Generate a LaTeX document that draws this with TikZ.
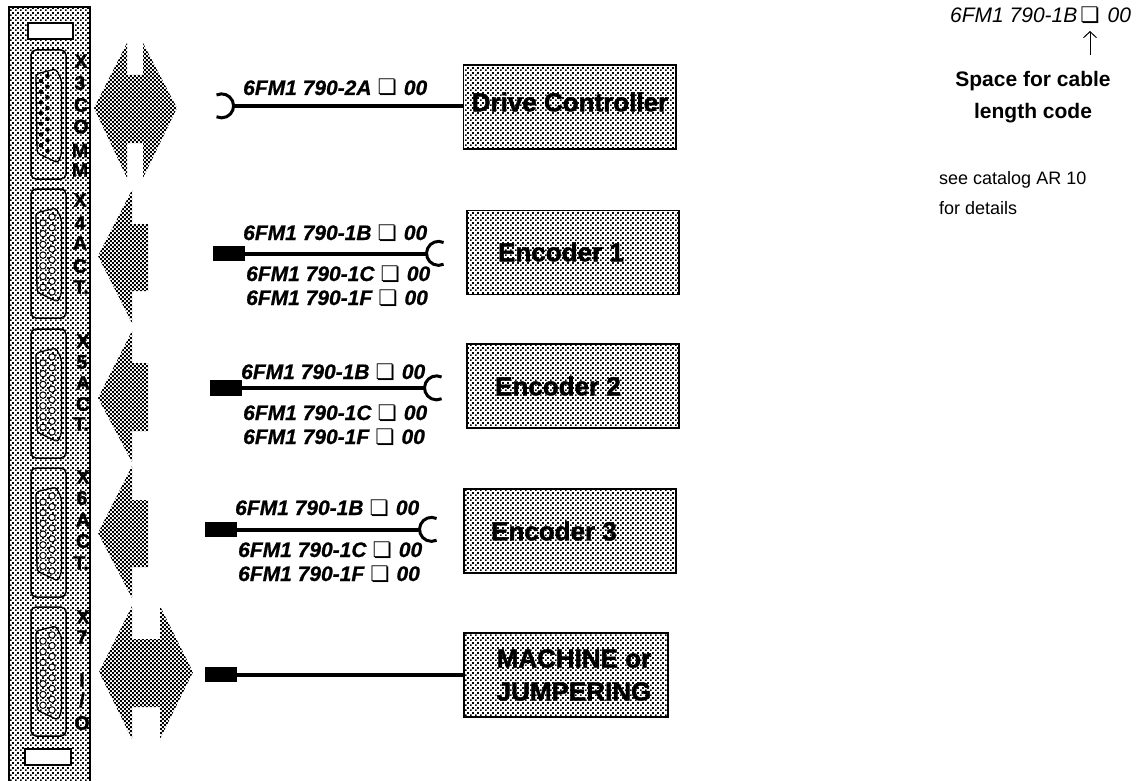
\documentclass[tikz,border=0pt]{standalone}
\usepackage{fontspec}
\setmainfont{Liberation Sans}
\newfontfamily\boxglyph{DejaVu Sans}
\newfontfamily\heavyfont{Liberation Sans}[BoldFeatures={FakeBold=1.6},ItalicFeatures={},BoldItalicFeatures={FakeBold=0.8}]
\usetikzlibrary{arrows.meta,patterns}

\pgfdeclarepatternformonly{lightscreen}{\pgfpoint{0pt}{0pt}}{\pgfpoint{5pt}{5pt}}{\pgfpoint{5pt}{5pt}}{
	\pgfpathrectangle{\pgfpoint{0pt}{0pt}}{\pgfpoint{2pt}{2pt}}
	\pgfpathrectangle{\pgfpoint{2.5pt}{2.5pt}}{\pgfpoint{2pt}{2pt}}
	\pgfusepath{fill}
}
\pgfdeclarepatternformonly{darkscreen}{\pgfpoint{0pt}{0pt}}{\pgfpoint{4.4pt}{4.4pt}}{\pgfpoint{4.4pt}{4.4pt}}{
	\pgfpathrectangle{\pgfpoint{0pt}{0pt}}{\pgfpoint{2.2pt}{2.2pt}}
	\pgfpathrectangle{\pgfpoint{2.2pt}{2.2pt}}{\pgfpoint{2.2pt}{2.2pt}}
	\pgfusepath{fill}
}

\newcommand{\cablecode}[1]{6FM1 790-#1\hspace{6pt}{\boxglyph\fontsize{21.5pt}{21.5pt}\selectfont ❏}\hspace{7pt}00}

\begin{document}
\begin{tikzpicture}[
		x=1pt,y=-1pt,
		every node/.style={inner sep=0pt},
		unitbox/.style={draw,line width=1.8pt,pattern=lightscreen,minimum height=84pt},
		unitlabel/.style={font=\heavyfont\fontsize{26pt}{33pt}\selectfont\bfseries,align=center},
		stacklabel/.style={font=\heavyfont\fontsize{19.5pt}{20pt}\selectfont\bfseries},
		partlabel/.style={anchor=base west,font=\heavyfont\fontsize{21pt}{21pt}\selectfont\bfseries\itshape},
		plugbox/.style={fill=black,minimum width=32pt,minimum height=15.5pt},
		cableline/.style={line width=4pt},
		hookline/.style={line width=3pt},
		screenarrow/.style={pattern=darkscreen,draw=none}
		]
		\useasboundingbox (0,0) rectangle (1137,781);
		
		% =========================
		% Left: front panel
		% =========================
		\fill[pattern=lightscreen] (9,7) rectangle (90,781);
		\draw[line width=1.8pt] (9,781) -- (9,7) -- (90,7) -- (90,781);
		\draw[line width=1.6pt,fill=white] (28,23) rectangle (73,39);
		\draw[line width=1.6pt,fill=white] (25,749) rectangle (71,765);
		
		% sockets
		\foreach \shelltop in {50,189,329,468,607} {
			\draw[line width=1.5pt,rounded corners=5pt] (31,\shelltop) rectangle (66,\shelltop+129);
			\draw[line width=1.3pt,rounded corners=3pt] (36,\shelltop+24) -- (56,\shelltop+19) -- (61.5,\shelltop+30)
				-- (61.5,\shelltop+104) -- (58,\shelltop+113) -- (37,\shelltop+103) -- cycle;
		}
		\foreach \shelltop in {189,329,468,607} {
			\foreach \pinstep in {0,...,6}
				\draw[line width=1pt,fill=white] (43,\shelltop+34+\pinstep*10.7) circle (3.2pt);
			\foreach \pinstep in {0,...,7}
				\draw[line width=1pt,fill=white] (52,\shelltop+28+\pinstep*10.7) circle (3.2pt);
		}
		\foreach \pinstep in {0,...,6}
			\fill (41,81+\pinstep*10.7) circle (2.3pt);
		\foreach \pinstep in {0,...,7}
			\fill (47.5,76+\pinstep*10.7) circle (2.3pt);
		
		% socket names
		\foreach \ch/\px/\py [count=\i] in {X/81/61,3/80/83,C/81/105,O/81/126.5,M/80/150.5,M/80/170}
			\node[stacklabel] (namea\i) at (\px,\py) {\ch};
		\foreach \ch/\px/\py [count=\i] in {X/80/200,4/80/223,A/80/243,C/80/266,T./81/287}
			\node[stacklabel] (nameb\i) at (\px,\py) {\ch};
		\foreach \ch/\px/\py [count=\i] in {X/83/341,5/82/362,A/83/383,C/83/404,T./81/424}
			\node[stacklabel] (namec\i) at (\px,\py) {\ch};
		\foreach \ch/\px/\py [count=\i] in {X/83/477,6/82/498,A/83/520,C/83/541,T./81/563}
			\node[stacklabel] (named\i) at (\px,\py) {\ch};
		\foreach \ch/\px/\py [count=\i] in {X/83/617,7/82/637,I/82/680,{{/}}/82/700,O/82/723}
			\node[stacklabel] (namee\i) at (\px,\py) {\ch};
		
		% =========================
		% Middle: signal arrows
		% =========================
		\fill[screenarrow] (127,43) -- (127,75) -- (143,75) -- (143,43) -- (177,108) -- (143,178)
			-- (143,143) -- (127,143) -- (127,178) -- (94,108) -- cycle;
		\fill[screenarrow] (132,190) -- (132,224) -- (148,224) -- (148,291) -- (132,291) -- (132,323) -- (98,256) -- cycle;
		\fill[screenarrow] (132,331) -- (132,363) -- (148,363) -- (148,431) -- (132,431) -- (132,462) -- (98,398) -- cycle;
		\fill[screenarrow] (132,466) -- (132,500) -- (148,500) -- (148,567) -- (132,567) -- (132,598) -- (98,533) -- cycle;
		\fill[screenarrow] (132,606) -- (132,639) -- (160,639) -- (160,606) -- (193,672) -- (160,739)
			-- (160,707) -- (132,707) -- (132,739) -- (99,672) -- cycle;
		
		% =========================
		% Right of panel: units
		% =========================
		\node[unitbox,minimum width=212.5pt] (drive) at (569.75,107) {};
		\node[unitbox,minimum width=212.5pt] (encodera) at (573,252.5) {};
		\node[unitbox,minimum width=212.5pt] (encoderb) at (573,386) {};
		\node[unitbox,minimum width=212.5pt] (encoderc) at (570,531) {};
		\node[unitbox,minimum width=204pt] (machine) at (566,675) {};
		
		\node[unitlabel] (drivelabel) at (570,102) {Drive Controller};
		\node[unitlabel] (encoderalabel) at (561,252) {Encoder 1};
		\node[unitlabel] (encoderblabel) at (558,386) {Encoder 2};
		\node[unitlabel] (encoderclabel) at (554,531) {Encoder 3};
		\node[unitlabel] (machinelabel) at (574,675) {MACHINE or\\JUMPERING};
		
		% plugs and hooks
		\node[plugbox] (pluga) at (229,253.5) {};
		\node[plugbox] (plugb) at (226,388) {};
		\node[plugbox] (plugc) at (221,529.5) {};
		\node[plugbox] (plugd) at (221,674.5) {};
		\coordinate (hookdrive) at (233.5,106);
		\coordinate (hooka) at (427,253.5);
		\coordinate (hookb) at (425,388);
		\coordinate (hookc) at (420,529.5);
		
		\draw[hookline] ([shift={(-17,-11)}]hookdrive) arc[start angle=115,end angle=-115,radius=12pt];
		\foreach \hookname in {hooka,hookb,hookc}
			\draw[hookline] ([shift={(16.6,-11)}]\hookname) arc[start angle=65,end angle=295,radius=12pt];
		
		% cables
		\draw[cableline] (hookdrive) -- (hookdrive -| drive.west);
		\draw[cableline] (pluga) -- (hooka);
		\draw[cableline] (plugb) -- (hookb);
		\draw[cableline] (plugc) -- (hookc);
		\draw[cableline] (plugd) -- (plugd -| machine.west);
		
		% order numbers
		\node[partlabel] (parta) at (243,95) {\cablecode{2A}};
		\node[partlabel] (partb) at (243,240) {\cablecode{1B}};
		\node[partlabel] (partc) at (246,281) {\cablecode{1C}};
		\node[partlabel] (partd) at (246,305) {\cablecode{1F}};
		\node[partlabel] (parte) at (241,379) {\cablecode{1B}};
		\node[partlabel] (partf) at (243,420) {\cablecode{1C}};
		\node[partlabel] (partg) at (243,444) {\cablecode{1F}};
		\node[partlabel] (parth) at (235,515) {\cablecode{1B}};
		\node[partlabel] (parti) at (238,557) {\cablecode{1C}};
		\node[partlabel] (partj) at (238,581) {\cablecode{1F}};
		
		% =========================
		% Far right: length code note
		% =========================
		\node[anchor=base west,font=\fontsize{21pt}{21pt}\selectfont\itshape] (codelabel) at (950,23)
		{6FM1 790-1B\hspace{3pt}{\boxglyph\fontsize{21.5pt}{21.5pt}\selectfont ❏}\hspace{8pt}00};
		\node[align=center,font=\fontsize{21pt}{32pt}\selectfont\bfseries] (spacelabel) at (1033,97)
		{Space for cable\\length code};
		\coordinate (arrowstart) at (1090,55);
		\coordinate (arrowend) at (1090,31);
		\draw[-{Straight Barb[length=6pt,width=13pt]},line width=1pt] (arrowstart) -- (arrowend);
		\node[anchor=north west,align=left,font=\fontsize{18pt}{30pt}\selectfont] (seelabel) at (939,171)
		{see catalog AR 10\\for details};
		
	\end{tikzpicture}
\end{document}
